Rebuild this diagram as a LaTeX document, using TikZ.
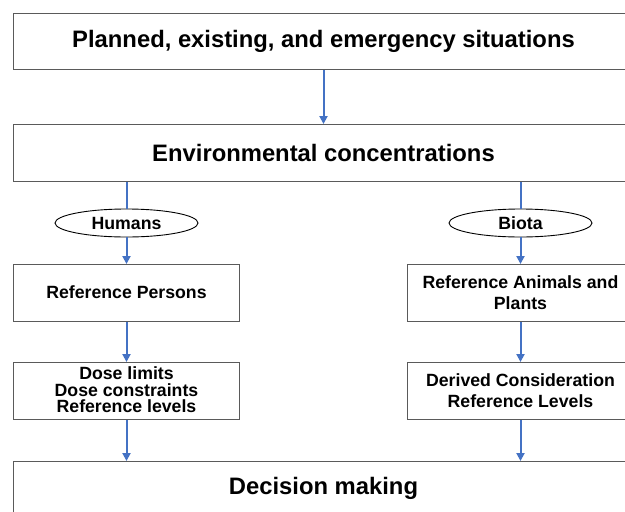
\documentclass[tikz,border=0pt]{standalone}
\usepackage{fontspec}
\setmainfont{Liberation Sans}
\usetikzlibrary{arrows.meta,shapes.geometric}
\definecolor{arrowblue}{HTML}{4472C4}
\definecolor{boxgray}{HTML}{5A5A5A}
\begin{document}
\begin{tikzpicture}[x=1pt,y=-1pt,
  box/.style={draw=boxgray,line width=1.3pt,fill=white,anchor=north west,inner sep=0pt},
  bigtext/.style={font=\bfseries\fontsize{23.8}{28}\selectfont,inner sep=0pt},
  smalltext/.style={font=\bfseries\fontsize{17.7}{21}\selectfont,align=center,inner sep=0pt},
  tighttext/.style={font=\bfseries\fontsize{17.7}{16.5}\selectfont,align=center,inner sep=0pt},
  oval/.style={ellipse,draw=black,line width=0.9pt,fill=white,minimum width=143pt,minimum height=28pt,inner sep=0pt,font=\bfseries\fontsize{17.7}{20}\selectfont},
  link/.style={draw=arrowblue,line width=2pt},
  arrow/.style={link,-{Triangle[width=8pt,length=8pt]}}]
\useasboundingbox (0,0) rectangle (625,512);
\clip (0,0) rectangle (625,512);
\fill[white] (0,0) rectangle (625,512);
% boxes
\node[box,minimum width=660pt,minimum height=56pt] (top) at (13,13) {};
\node[bigtext] (toptext) at (323.5,41) {Planned, existing, and emergency situations};
\node[box,minimum width=660pt,minimum height=57pt] (env) at (13,124) {};
\node[bigtext] (envtext) at (323.5,152.5) {Environmental concentrations};
\node[oval] (humans) at (126.5,223) {Humans};
\node[oval] (biota) at (520.5,223) {Biota};
\node[box,minimum width=226pt,minimum height=57pt] (persons) at (13,264) {};
\node[smalltext] (personstext) at (126.5,292.5) {Reference Persons};
\node[box,minimum width=260pt,minimum height=57pt] (animals) at (407,264) {};
\node[smalltext] (animalstext) at (520.5,292.5) {Reference Animals and\\Plants};
\node[box,minimum width=226pt,minimum height=57pt] (dose) at (13,362) {};
\node[tighttext] (dosetext) at (126.5,390) {Dose limits\\Dose constraints\\Reference levels};
\node[box,minimum width=260pt,minimum height=57pt] (derived) at (407,362) {};
\node[smalltext] (derivedtext) at (520.5,390.5) {Derived Consideration\\Reference Levels};
\node[box,minimum width=660pt,minimum height=70pt] (decision) at (13,461) {};
\node[bigtext] (decisiontext) at (323.5,488) {Decision making};
% connectors
\draw[arrow] (top.south -| toptext) -- (env.north -| toptext);
\draw[link] (env.south -| humans) -- (humans.north);
\draw[link] (env.south -| biota) -- (biota.north);
\draw[arrow] (humans.south) -- (persons.north -| humans);
\draw[arrow] (biota.south) -- (animals.north -| biota);
\draw[arrow] (persons.south -| humans) -- (dose.north -| humans);
\draw[arrow] (animals.south -| biota) -- (derived.north -| biota);
\draw[arrow] (dose.south -| humans) -- (decision.north -| humans);
\draw[arrow] (derived.south -| biota) -- (decision.north -| biota);
\end{tikzpicture}
\end{document}
